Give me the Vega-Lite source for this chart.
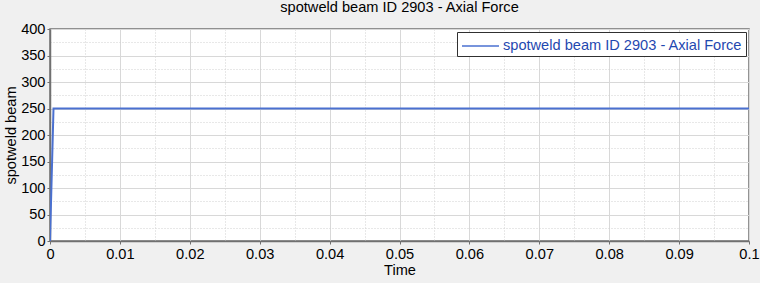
{
  "$schema": "https://vega.github.io/schema/vega-lite/v6.json",
  "autosize": {"type": "none"},
  "width": 699,
  "height": 212,
  "padding": {"left": 50, "top": 29, "right": 11, "bottom": 42},
  "background": "#f0f0f0",
  "title": {"text": "spotweld beam ID 2903 - Axial Force", "font": "Liberation Sans", "fontSize": 14.6, "fontWeight": "normal", "color": "#000000", "anchor": "middle", "offset": 6},
  "config": {
    "view": {"fill": "#ffffff", "stroke": "#707070", "strokeWidth": 1.5},
    "axis": {"labelFont": "Liberation Sans", "labelFontSize": 14.6, "labelColor": "#000000", "titleFont": "Liberation Sans", "titleFontSize": 14.6, "titleFontWeight": "normal", "titleColor": "#000000", "domainColor": "#707070", "domainWidth": 1.5, "tickColor": "#707070"}
  },
  "data": {"values": [
    {"Time": 0, "value": 0, "series": "spotweld beam ID 2903 - Axial Force"},
    {"Time": 0.0005, "value": 250, "series": "spotweld beam ID 2903 - Axial Force"},
    {"Time": 0.1, "value": 250, "series": "spotweld beam ID 2903 - Axial Force"}
  ]},
  "mark": {"type": "line", "strokeWidth": 2, "clip": true},
  "encoding": {
    "x": {"field": "Time", "type": "quantitative", "scale": {"domain": [0, 0.1], "nice": false},
      "axis": {"title": "Time", "values": [0,0.005,0.01,0.015,0.02,0.025,0.03,0.035,0.04,0.045,0.05,0.055,0.06,0.065,0.07,0.075,0.08,0.085,0.09,0.095,0.1],
        "labelExpr": "round(datum.value*1000) % 10 === 0 ? format(datum.value, '~g') : ''",
        "tickSize": {"condition": {"test": "round(datum.value*1000) % 10 === 0", "value": 3}, "value": 0},
        "labelPadding": 2, "titlePadding": 2, "labelFlush": false, "labelOverlap": false,
        "grid": true,
        "gridColor": {"condition": {"test": "round(datum.value*1000) % 10 === 0", "value": "#d8d8d8"}, "value": "#d0d0d0"},
        "gridDash": {"condition": {"test": "round(datum.value*1000) % 10 === 0", "value": []}, "value": [1, 2]},
        "gridWidth": 1}},
    "y": {"field": "value", "type": "quantitative", "scale": {"domain": [0, 400], "nice": false},
      "axis": {"title": "spotweld beam", "values": [0,25,50,75,100,125,150,175,200,225,250,275,300,325,350,375,400],
        "labelExpr": "datum.value % 50 === 0 ? datum.label : ''",
        "tickSize": {"condition": {"test": "datum.value % 50 === 0", "value": 3}, "value": 0},
        "labelPadding": 2, "titlePadding": 2, "labelOverlap": false, "labelFlush": false,
        "grid": true,
        "gridColor": {"condition": {"test": "datum.value % 50 === 0", "value": "#d8d8d8"}, "value": "#d0d0d0"},
        "gridDash": {"condition": {"test": "datum.value % 50 === 0", "value": []}, "value": [1, 2]},
        "gridWidth": 1}},
    "color": {"field": "series", "type": "nominal", "scale": {"range": ["#4a70d0"]},
      "legend": {"title": null, "orient": "top-right", "offset": 3, "labelFont": "Liberation Sans", "labelFontSize": 14.6, "labelColor": "#1f48b0", "symbolType": "M-1.85,0L1.85,0", "symbolSize": 400, "symbolStrokeWidth": 1.5, "symbolOffset": 9.5, "labelOffset": 11.5, "labelLimit": 400, "fillColor": "#ffffff", "strokeColor": "#303030", "padding": 3, "cornerRadius": 0}}
  }
}
